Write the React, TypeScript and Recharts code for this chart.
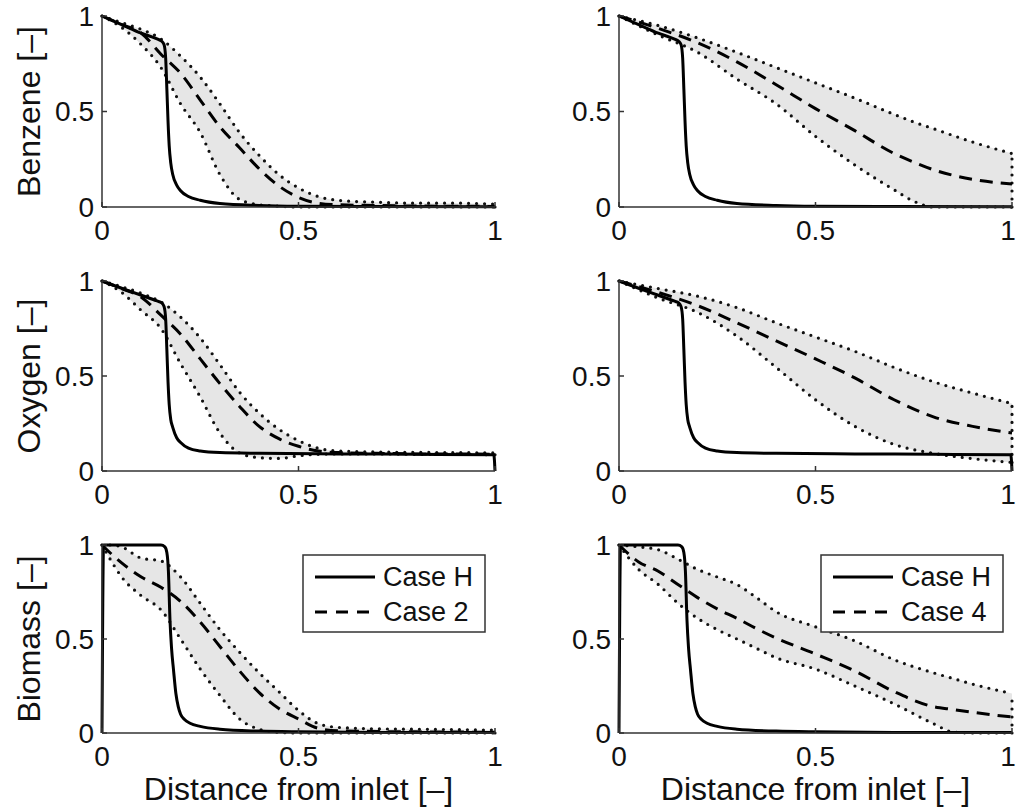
import React from 'react';
import { ComposedChart, Area, Line, XAxis, YAxis } from 'recharts';

const FONT = '"Liberation Sans", Arial, Helvetica, sans-serif';

// ---------- tick labels & texts ----------
const axisTicks = [0, 0.5, 1];
const yLabels = ['Benzene [–]', 'Oxygen [–]', 'Biomass [–]'];
const xLabel = 'Distance from inlet [–]';
const legendH = 'Case H';
const legendCases = ['Case 2', 'Case 4'];

// ---------- Case H (solid) ----------
const benzeneH_x = [0, 0.05, 0.1, 0.14, 0.152, 0.158, 0.162, 0.165, 0.168, 0.171, 0.175, 0.18, 0.19, 0.2, 0.22, 0.25, 0.3, 0.4, 0.5, 0.7, 1];
const benzeneH_y = [1, 0.955, 0.91, 0.88, 0.868, 0.85, 0.78, 0.62, 0.45, 0.32, 0.23, 0.17, 0.115, 0.085, 0.055, 0.035, 0.018, 0.008, 0.004, 0.002, 0.001];

const oxygenH_x = [0, 0.05, 0.1, 0.14, 0.152, 0.158, 0.162, 0.165, 0.168, 0.171, 0.175, 0.18, 0.19, 0.2, 0.22, 0.25, 0.3, 0.4, 0.6, 0.8, 0.997, 1];
const oxygenH_y = [1, 0.962, 0.925, 0.895, 0.885, 0.865, 0.8, 0.64, 0.47, 0.35, 0.27, 0.23, 0.175, 0.15, 0.12, 0.105, 0.097, 0.093, 0.09, 0.088, 0.085, 0];

const biomassH_x = [0, 0.004, 0.05, 0.1, 0.15, 0.16, 0.165, 0.169, 0.173, 0.177, 0.182, 0.188, 0.194, 0.2, 0.21, 0.224, 0.25, 0.3, 0.4, 0.5, 0.7, 1];
const biomassH_y = [0, 1, 1, 1, 1, 0.99, 0.96, 0.86, 0.6, 0.45, 0.335, 0.21, 0.14, 0.1, 0.072, 0.052, 0.035, 0.02, 0.01, 0.006, 0.003, 0.002];

// ---------- Bands (dotted bounds, dashed mean) ----------
const benzL_x = [0, 0.05, 0.1, 0.15, 0.2, 0.25, 0.3, 0.35, 0.4, 0.45, 0.5, 0.55, 0.6, 0.7, 0.8, 0.9, 1];
const benzL_lo = [1, 0.94, 0.85, 0.73, 0.54, 0.39, 0.17, 0.04, 0.012, 0.004, 0, 0, 0, 0, 0, 0, 0];
const benzL_mean = [1, 0.955, 0.91, 0.8, 0.7, 0.56, 0.42, 0.31, 0.2, 0.11, 0.05, 0.02, 0.012, 0.008, 0.005, 0.004, 0.003];
const benzL_hi = [1, 0.965, 0.93, 0.88, 0.79, 0.68, 0.54, 0.39, 0.27, 0.17, 0.1, 0.055, 0.035, 0.025, 0.02, 0.02, 0.015];

const benzR_x = [0, 0.1, 0.2, 0.3, 0.4, 0.5, 0.6, 0.7, 0.75, 0.8, 0.9, 1];
const benzR_lo = [1, 0.9, 0.81, 0.67, 0.54, 0.37, 0.22, 0.09, 0.03, 0, 0, 0];
const benzR_mean = [1, 0.935, 0.86, 0.76, 0.64, 0.515, 0.4, 0.28, 0.235, 0.195, 0.145, 0.12];
const benzR_hi = [1, 0.95, 0.885, 0.81, 0.73, 0.65, 0.57, 0.485, 0.445, 0.41, 0.34, 0.28];

const oxyL_x = [0, 0.05, 0.1, 0.15, 0.2, 0.25, 0.3, 0.35, 0.4, 0.45, 0.5, 0.55, 0.6, 0.7, 0.8, 0.9, 1];
const oxyL_lo = [1, 0.94, 0.845, 0.75, 0.565, 0.39, 0.2, 0.095, 0.07, 0.066, 0.08, 0.088, 0.09, 0.09, 0.088, 0.088, 0.085];
const oxyL_mean = [1, 0.96, 0.915, 0.82, 0.72, 0.59, 0.46, 0.34, 0.235, 0.17, 0.13, 0.105, 0.097, 0.093, 0.09, 0.09, 0.088];
const oxyL_hi = [1, 0.97, 0.935, 0.89, 0.81, 0.7, 0.56, 0.415, 0.305, 0.22, 0.16, 0.12, 0.105, 0.1, 0.098, 0.097, 0.095];

const oxyR_x = [0, 0.1, 0.2, 0.3, 0.4, 0.5, 0.6, 0.7, 0.8, 0.9, 1];
const oxyR_lo = [1, 0.91, 0.835, 0.71, 0.545, 0.375, 0.235, 0.14, 0.093, 0.065, 0.045];
const oxyR_mean = [1, 0.94, 0.87, 0.78, 0.685, 0.59, 0.49, 0.375, 0.285, 0.235, 0.2];
const oxyR_hi = [1, 0.96, 0.92, 0.86, 0.78, 0.705, 0.63, 0.545, 0.47, 0.41, 0.355];

const bioL_x = [0, 0.025, 0.05, 0.1, 0.15, 0.2, 0.25, 0.3, 0.35, 0.4, 0.45, 0.5, 0.55, 0.6, 0.7, 0.8, 0.9, 1];
const bioL_lo = [1, 0.91, 0.83, 0.73, 0.655, 0.5, 0.34, 0.2, 0.075, 0.02, 0.003, 0, 0, 0, 0, 0, 0, 0];
const bioL_mean = [1, 0.95, 0.905, 0.83, 0.775, 0.7, 0.59, 0.46, 0.33, 0.215, 0.13, 0.075, 0.025, 0.012, 0.008, 0.006, 0.005, 0.004];
const bioL_hi = [1, 1, 0.99, 0.93, 0.915, 0.83, 0.69, 0.55, 0.43, 0.32, 0.22, 0.12, 0.05, 0.03, 0.022, 0.02, 0.018, 0.015];

const bioR_x = [0, 0.05, 0.1, 0.15, 0.2, 0.25, 0.3, 0.35, 0.4, 0.5, 0.6, 0.7, 0.8, 0.85, 0.9, 1];
const bioR_lo = [1, 0.87, 0.79, 0.69, 0.61, 0.55, 0.5, 0.45, 0.4, 0.34, 0.25, 0.155, 0.05, 0.005, 0, 0];
const bioR_mean = [1, 0.91, 0.86, 0.79, 0.72, 0.66, 0.61, 0.555, 0.505, 0.42, 0.33, 0.22, 0.14, 0.125, 0.11, 0.085];
const bioR_hi = [1, 0.99, 0.975, 0.925, 0.87, 0.83, 0.79, 0.72, 0.645, 0.565, 0.49, 0.39, 0.32, 0.29, 0.26, 0.21];

// ---------- helpers ----------
const bandRows = (x: number[], lo: number[], mean: number[], hi: number[]) =>
  x.map((v, i) => ({ x: v, lo: lo[i], mean: mean[i], hi: hi[i], range: [lo[i], hi[i]] }));
const lineRows = (x: number[], y: number[]) => x.map((v, i) => ({ x: v, y: y[i] }));

// ---------- layout ----------
const COLS = [
  { chartLeft: 0, chartWidth: 510, boxLeft: 102, boxRight: 495 },
  { chartLeft: 510, chartWidth: 506, boxLeft: 619, boxRight: 1012 },
];
const ROWS = [
  { boxTop: 16, boxBottom: 207, chartBottom: 262 },
  { boxTop: 281, boxBottom: 471, chartBottom: 527 },
  { boxTop: 545, boxBottom: 733, chartBottom: 811 },
];

const AXIS_COLOR = '#333';
const TICK_FONT = 28;
const tickStyle = { fill: '#111', fontSize: TICK_FONT, fontFamily: FONT };

function makeXTick(edgeShift: number) {
  return (props: any) => {
    const { x, y, payload } = props;
    const v = payload.value;
    const dx = v === 1 ? -edgeShift : 0;
    return (
      <text
        x={x + dx}
        y={y}
        dy="0.71em"
        textAnchor="middle"
        fontSize={TICK_FONT}
        fontFamily={FONT}
        fill="#111"
      >
        {String(v)}
      </text>
    );
  };
}

type PanelProps = {
  col: number;
  row: number;
  rows: any[];
  hRows: any[];
};

const DOT = { stroke: '#111', strokeWidth: 3.2, strokeDasharray: '0 8', strokeLinecap: 'round' as const };

function Panel({ col, row, rows, hRows }: PanelProps) {
  const c = COLS[col];
  const r = ROWS[row];
  const top = r.boxTop - 16;
  const height = r.chartBottom - top;
  const last = rows[rows.length - 1];
  const edge = [
    { x: 1, y: last.lo },
    { x: 1, y: last.hi },
  ];
  return (
    <div style={{ position: 'absolute', left: c.chartLeft, top, width: c.chartWidth, height }}>
      <ComposedChart
        width={c.chartWidth}
        height={height}
        data={rows}
        margin={{ top: 16, right: c.chartLeft + c.chartWidth - c.boxRight, left: 0, bottom: 0 }}
        style={{ fontFamily: FONT }}
      >
        <XAxis
          xAxisId={0}
          dataKey="x"
          type="number"
          domain={[0, 1]}
          ticks={axisTicks}
          height={r.chartBottom - r.boxBottom}
          tickSize={-5}
          tickMargin={18}
          tick={makeXTick(col === 1 ? 4 : 0)}
          axisLine={{ stroke: AXIS_COLOR, strokeWidth: 1.5 }}
          tickLine={{ stroke: AXIS_COLOR, strokeWidth: 1.5 }}
          interval={0}
        />
        <XAxis
          xAxisId="top"
          orientation="top"
          type="number"
          domain={[0, 1]}
          ticks={axisTicks}
          height={0}
          tickSize={-5}
          tick={false}
          axisLine={{ stroke: AXIS_COLOR, strokeWidth: 1.5 }}
          tickLine={{ stroke: AXIS_COLOR, strokeWidth: 1.5 }}
        />
        <YAxis
          yAxisId={0}
          type="number"
          domain={[0, 1]}
          ticks={axisTicks}
          width={c.boxLeft - c.chartLeft}
          tickSize={-5}
          tickMargin={13}
          tick={tickStyle}
          axisLine={{ stroke: AXIS_COLOR, strokeWidth: 1.5 }}
          tickLine={{ stroke: AXIS_COLOR, strokeWidth: 1.5 }}
          interval={0}
        />
        <YAxis
          yAxisId="right"
          orientation="right"
          type="number"
          domain={[0, 1]}
          ticks={axisTicks}
          width={0}
          tickSize={-5}
          tick={false}
          axisLine={{ stroke: AXIS_COLOR, strokeWidth: 1.5 }}
          tickLine={{ stroke: AXIS_COLOR, strokeWidth: 1.5 }}
        />
        <Area
          dataKey="range"
          type="monotone"
          stroke="none"
          fill="#e6e6e6"
          fillOpacity={1}
          isAnimationActive={false}
          activeDot={false}
        />
        <Line dataKey="lo" type="monotone" {...DOT} dot={false} activeDot={false} isAnimationActive={false} />
        <Line dataKey="hi" type="monotone" {...DOT} dot={false} activeDot={false} isAnimationActive={false} />
        <Line data={edge} dataKey="y" type="linear" {...DOT} dot={false} activeDot={false} isAnimationActive={false} />
        <Line dataKey="mean" type="monotone" stroke="#000" strokeWidth={3} strokeDasharray="13 8" dot={false} activeDot={false} isAnimationActive={false} />
        <Line data={hRows} dataKey="y" type="monotone" stroke="#000" strokeWidth={3} dot={false} activeDot={false} isAnimationActive={false} />
      </ComposedChart>
    </div>
  );
}

function LegendBox({ x, y, caseName }: { x: number; y: number; caseName: string }) {
  return (
    <g>
      <rect x={x} y={y} width={182} height={77} fill="#fff" stroke={AXIS_COLOR} strokeWidth={1.5} />
      <line x1={x + 12} x2={x + 72} y1={y + 22} y2={y + 22} stroke="#000" strokeWidth={3} />
      <line x1={x + 12} x2={x + 72} y1={y + 57} y2={y + 57} stroke="#000" strokeWidth={3} strokeDasharray="12 9" />
      <text x={x + 80} y={y + 22} dominantBaseline="central" fontSize={27} fill="#111" fontFamily={FONT}>
        {legendH}
      </text>
      <text x={x + 80} y={y + 57} dominantBaseline="central" fontSize={27} fill="#111" fontFamily={FONT}>
        {caseName}
      </text>
    </g>
  );
}

export default function App() {
  const panels = [
    { col: 0, row: 0, rows: bandRows(benzL_x, benzL_lo, benzL_mean, benzL_hi), hRows: lineRows(benzeneH_x, benzeneH_y) },
    { col: 1, row: 0, rows: bandRows(benzR_x, benzR_lo, benzR_mean, benzR_hi), hRows: lineRows(benzeneH_x, benzeneH_y) },
    { col: 0, row: 1, rows: bandRows(oxyL_x, oxyL_lo, oxyL_mean, oxyL_hi), hRows: lineRows(oxygenH_x, oxygenH_y) },
    { col: 1, row: 1, rows: bandRows(oxyR_x, oxyR_lo, oxyR_mean, oxyR_hi), hRows: lineRows(oxygenH_x, oxygenH_y) },
    { col: 0, row: 2, rows: bandRows(bioL_x, bioL_lo, bioL_mean, bioL_hi), hRows: lineRows(biomassH_x, biomassH_y) },
    { col: 1, row: 2, rows: bandRows(bioR_x, bioR_lo, bioR_mean, bioR_hi), hRows: lineRows(biomassH_x, biomassH_y) },
  ];
  return (
    <div
      style={{
        position: 'absolute',
        left: 0,
        top: 0,
        width: 1016,
        height: 811,
        overflow: 'hidden',
        background: '#fff',
        fontFamily: FONT,
      }}
    >
      {panels.map((p, i) => (
        <Panel key={i} {...p} />
      ))}
      <svg
        width={1016}
        height={811}
        style={{ position: 'absolute', left: 0, top: 0, pointerEvents: 'none' }}
      >
        {ROWS.map((r, i) => {
          const cy = (r.boxTop + r.boxBottom) / 2;
          return (
            <text
              key={i}
              x={40}
              y={cy}
              transform={`rotate(-90 40 ${cy})`}
              textAnchor="middle"
              fontSize={32}
              fill="#111"
              fontFamily={FONT}
            >
              {yLabels[i]}
            </text>
          );
        })}
        {COLS.map((c, i) => (
          <text
            key={i}
            x={(c.boxLeft + c.boxRight) / 2}
            y={800}
            textAnchor="middle"
            fontSize={32}
            fill="#111"
            fontFamily={FONT}
          >
            {xLabel}
          </text>
        ))}
        <LegendBox x={303} y={555} caseName={legendCases[0]} />
        <LegendBox x={821} y={555} caseName={legendCases[1]} />
      </svg>
    </div>
  );
}
